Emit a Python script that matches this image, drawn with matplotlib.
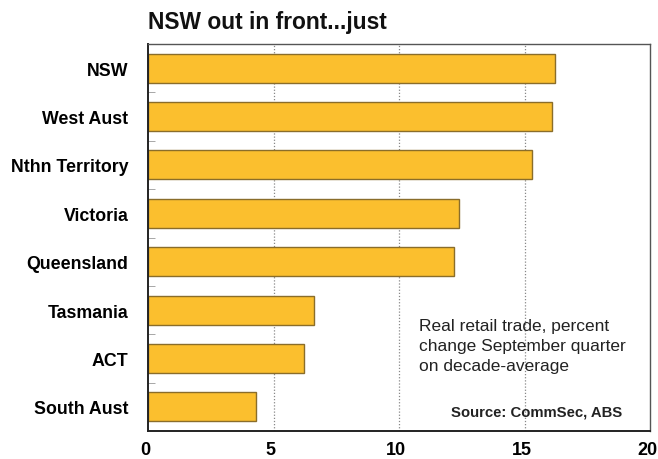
import matplotlib.pyplot as plt
import matplotlib.transforms as mtransforms
import numpy as np

regions = ["NSW", "West Aust", "Nthn Territory", "Victoria", "Queensland",
           "Tasmania", "ACT", "South Aust"]
change = [16.2, 16.1, 15.3, 12.4, 12.2, 6.6, 6.2, 4.3]
xticks = [0, 5, 10, 15, 20]

plt.rcParams["font.family"] = ["Liberation Sans", "DejaVu Sans"]

fig = plt.figure(figsize=(6.58, 4.60), dpi=100)
ax = fig.add_axes([148 / 658, 28 / 460, 502 / 658, 387 / 460])

ypos = np.arange(len(regions))
ax.barh(ypos, change, height=0.6, color="#fbbf2e", edgecolor="#8a6d2a",
        linewidth=1.0, zorder=2)

ax.set_xlim(0, 20)
ax.set_ylim(len(regions) - 0.5, -0.5)
ax.set_xticks(xticks)
ax.set_xticklabels([str(t) for t in xticks], fontsize=13, fontweight="bold")
ax.set_yticks(ypos)
ax.set_yticklabels(regions, fontsize=12.8, fontweight="bold")
ax.set_yticks(ypos[:-1] + 0.5, minor=True)
ax.tick_params(axis="y", which="major", length=0, pad=14)
ax.tick_params(axis="y", which="minor", direction="in", length=5,
               color="#999999")
ax.tick_params(axis="x", length=0, pad=7)

# nudge the x labels a little left so "20" stays inside the figure
shift = mtransforms.ScaledTranslation(-3 / 100, 0, fig.dpi_scale_trans)
for lbl in ax.get_xticklabels():
    lbl.set_transform(lbl.get_transform() + shift)

# dotted vertical gridlines
for v in [5, 10, 15]:
    ax.axvline(v, color="#888888", linestyle=(0, (1, 1.5)), linewidth=0.9,
               zorder=1)

for side in ["top", "right"]:
    ax.spines[side].set_color("#555555")
    ax.spines[side].set_linewidth(1.0)
for side in ["left", "bottom"]:
    ax.spines[side].set_color("#222222")
    ax.spines[side].set_linewidth(1.4)

fig.text(148 / 658, 1 - 22 / 460, "NSW out in front...just", fontsize=16.4,
         fontweight="bold", va="center", ha="left", color="#111111")

ax.text(0.54, 0.292, "Real retail trade, percent\nchange September quarter\non decade-average",
        transform=ax.transAxes, fontsize=12.5, va="top", ha="left",
        color="#222222", linespacing=1.4)
ax.text(0.945, 0.05, "Source: CommSec, ABS", transform=ax.transAxes,
        fontsize=10.7, fontweight="bold", va="center", ha="right",
        color="#222222")

fig.savefig("out.png", dpi=100)
